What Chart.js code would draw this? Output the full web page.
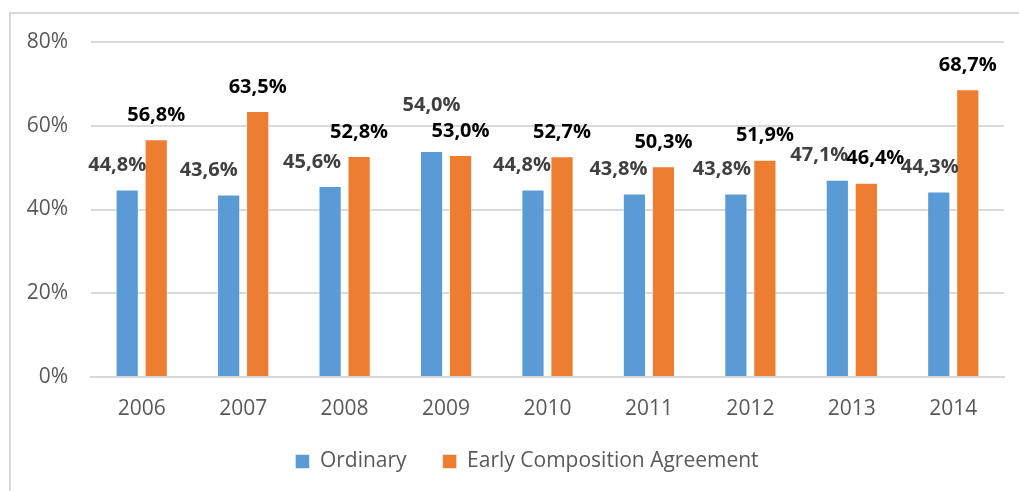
<!DOCTYPE html>
<html>
<head>
<meta charset="utf-8">
<script src="https://cdn.jsdelivr.net/npm/chart.js@4.4.1/dist/chart.umd.min.js"></script>
<style>
    html, body { margin: 0; padding: 0; background: #fff; overflow: hidden; }
    #frame { position: absolute; left: 9px; top: 12px; width: 1100px; height: 600px; border-left: 2px solid #d9d9d9; border-top: 2px solid #d9d9d9; }
    #chart { position: absolute; left: 0; top: 0; }
</style>
</head>
<body>
<div id="frame"></div>
<canvas id="chart" width="1019" height="491"></canvas>
<script>
const years = ["2006", "2007", "2008", "2009", "2010", "2011", "2012", "2013", "2014"];
const ordinary = [44.8, 43.6, 45.6, 54.0, 44.8, 43.8, 43.8, 47.1, 44.3];
const earlyComposition = [56.8, 63.5, 52.8, 53.0, 52.7, 50.3, 51.9, 46.4, 68.7];
const yTicks = [0, 20, 40, 60, 80];

const FONT = "'Open Sans', 'DejaVu Sans', sans-serif";

function pct(v) {
    return v.toFixed(1).replace('.', ',') + '%';
}

// draws the value above each bar, nudged the way the original was hand-placed
const barLabels = {
    id: 'barLabels',
    afterDatasetsDraw(chart, args, opts) {
        const ctx = chart.ctx;
        ctx.save();
        ctx.font = `bold 20px ${FONT}`;
        ctx.textAlign = 'center';
        ctx.textBaseline = 'middle';
        chart.data.datasets.forEach((ds, di) => {
            const meta = chart.getDatasetMeta(di);
            const nudge = opts.nudge[di];
            ctx.fillStyle = opts.colors[di];
            meta.data.forEach((bar, i) => {
                const dx = nudge.dx[i] || 0;
                const dy = nudge.dy[i] || 0;
                ctx.fillText(pct(ds.data[i]), bar.x + dx, bar.y - 24 + dy);
            });
        });
        ctx.restore();
    }
};

// the original legend sits a bit right of the canvas centre
const legendShift = {
    id: 'legendShift',
    afterLayout(chart) {
        chart.legend.left += 25;
        chart.legend.right += 25;
    }
};

const ctx = document.getElementById('chart').getContext('2d');
new Chart(ctx, {
    type: 'bar',
    data: {
        labels: years,
        datasets: [
            {
                label: 'Ordinary',
                data: ordinary,
                backgroundColor: '#5b9bd5',
                borderColor: 'rgba(255,255,255,0.5)',
                borderWidth: 1,
                categoryPercentage: 0.572,
                barPercentage: 0.8
            },
            {
                label: 'Early Composition Agreement',
                data: earlyComposition,
                backgroundColor: '#ed7d31',
                borderColor: 'rgba(255,255,255,0.5)',
                borderWidth: 1,
                categoryPercentage: 0.572,
                barPercentage: 0.8
            }
        ]
    },
    options: {
        responsive: false,
        animation: false,
        layout: { padding: { left: 0, right: 15, top: 42, bottom: 9 } },
        plugins: {
            tooltip: { enabled: false },
            legend: {
                position: 'bottom',
                labels: {
                    boxWidth: 14,
                    boxHeight: 14,
                    padding: 36,
                    color: '#595959',
                    font: { family: FONT, size: 21 }
                }
            },
            barLabels: {
                colors: ['#404040', '#000000'],
                nudge: [
                    { dx: [-10, -20, -18, 0, -11, -16, -14, -18, -9], dy: [0, 0, 0, -22, 0, 0, 0, 0, 0] },
                    { dx: [0, 0, 0, 0, 0, 0, 0, 9, 0], dy: [] }
                ]
            }
        },
        scales: {
            x: {
                grid: { display: false, drawTicks: false },
                border: { color: '#d9d9d9', width: 2 },
                ticks: { color: '#595959', padding: 19, font: { family: FONT, size: 21 } },
                afterFit: scale => { scale.height = 38; }
            },
            y: {
                min: 0,
                max: 80,
                afterBuildTicks: scale => { scale.ticks = yTicks.map(v => ({ value: v })); },
                grid: { color: '#d9d9d9', lineWidth: 2, drawTicks: false },
                border: { display: false },
                ticks: {
                    color: '#595959',
                    padding: 23,
                    font: { family: FONT, size: 21 },
                    callback: v => v + '%'
                },
                afterFit: scale => { scale.width = 91; }
            }
        }
    },
    plugins: [barLabels, legendShift]
});
</script>
</body>
</html>
